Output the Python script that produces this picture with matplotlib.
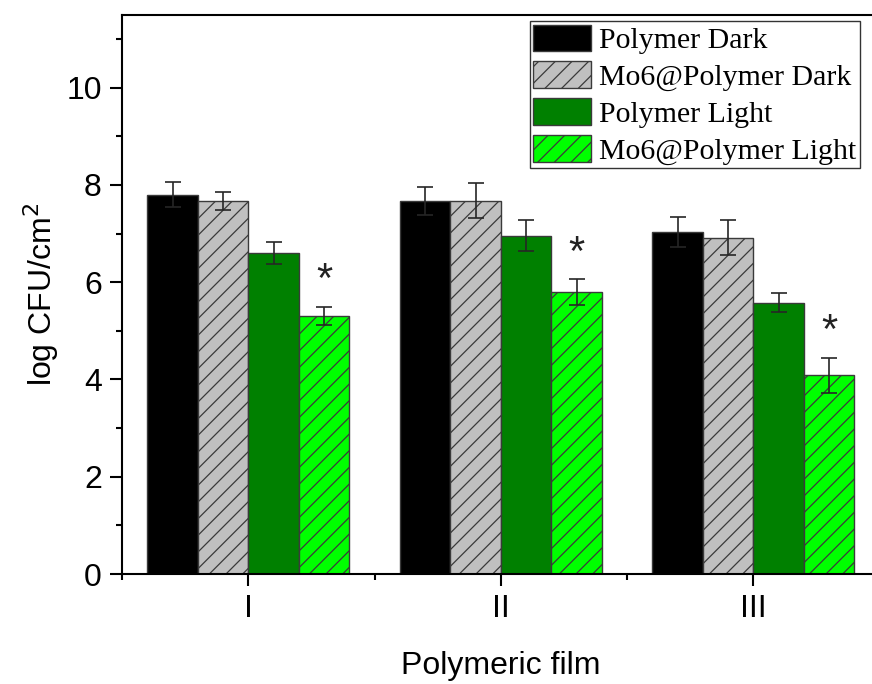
import matplotlib
matplotlib.use("Agg")
import matplotlib.pyplot as plt
import numpy as np
from matplotlib.ticker import MultipleLocator, FixedLocator

films = ["I", "II", "III"]
series = ["Polymer Dark", "Mo6@Polymer Dark", "Polymer Light", "Mo6@Polymer Light"]
polymer_dark = [7.80, 7.67, 7.04]
polymer_dark_err = [0.26, 0.29, 0.31]
mo6_dark = [7.67, 7.67, 6.91]
mo6_dark_err = [0.18, 0.36, 0.36]
polymer_light = [6.60, 6.96, 5.58]
polymer_light_err = [0.23, 0.31, 0.19]
mo6_light = [5.31, 5.80, 4.09]
mo6_light_err = [0.19, 0.26, 0.36]
significant = [True, True, True]

values = [polymer_dark, mo6_dark, polymer_light, mo6_light]
errors = [polymer_dark_err, mo6_dark_err, polymer_light_err, mo6_light_err]
colors = ["#000000", "#C0C0C0", "#008000", "#00FF00"]
hatches = [None, "//", None, "//"]

plt.rcParams["hatch.linewidth"] = 0.9
plt.rcParams["hatch.color"] = "#1a1a1a"

fig = plt.figure(figsize=(8.72, 6.84), dpi=100)
ax = fig.add_axes([122 / 872, 1 - 574 / 684, (879.5 - 122) / 872, (574 - 14.7) / 684])

x = np.arange(1, len(films) + 1)
width = 0.2
offsets = [-0.3, -0.1, 0.1, 0.3]

for vals, errs, col, hat, off, name in zip(values, errors, colors, hatches, offsets, series):
    ax.bar(x + off, vals, width, color=col, edgecolor="#3a3a3a", linewidth=1.0,
           hatch=hat, label=name, zorder=2)
    ax.errorbar(x + off, vals, yerr=errs, fmt="none", ecolor="#262626",
                elinewidth=1.2, capsize=6, capthick=1.2, zorder=3)

# significance marks above the irradiated Mo6@Polymer bars
for xi, v, e, sig in zip(x + offsets[3], mo6_light, mo6_light_err, significant):
    if sig:
        ax.text(xi, v + e + 0.30, "*", ha="center", va="baseline",
                fontsize=30, family="Liberation Sans", color="#222222", zorder=4)

ax.set_xlim(0.5, 3.5)
ax.set_ylim(0, 11.5)
ax.set_xticks(x)
ax.set_xticklabels(films)
ax.xaxis.set_minor_locator(FixedLocator([0.5, 1.5, 2.5, 3.5]))
ax.set_yticks([0, 2, 4, 6, 8, 10])
ax.yaxis.set_minor_locator(MultipleLocator(1))

tick_font = {"family": "Liberation Sans", "size": 23}
for lab in ax.get_xticklabels() + ax.get_yticklabels():
    lab.set_fontfamily("Liberation Sans")
    lab.set_fontsize(23)

ax.tick_params(axis="both", which="major", direction="out", length=8.5, width=1.5, pad=6)
ax.tick_params(axis="both", which="minor", direction="out", length=4.5, width=1.5)
ax.tick_params(top=False, right=False, which="both")
for sp in ax.spines.values():
    sp.set_linewidth(1.5)

ax.set_ylabel("log CFU/cm$^2$", fontdict=tick_font, labelpad=4)
ax.set_xlabel("Polymeric film", fontdict=tick_font, labelpad=19)

leg = ax.legend(loc="upper right", bbox_to_anchor=(860 / 872, 1 - 21 / 684),
                bbox_transform=fig.transFigure, borderaxespad=0,
                prop={"family": "Liberation Serif", "size": 21.5},
                frameon=True, fancybox=False, edgecolor="#000000",
                handlelength=1.94, handleheight=1.0, handletextpad=0.27,
                labelspacing=0.24, borderpad=0.12)
leg.get_frame().set_linewidth(1.0)

fig.savefig("out.png", dpi=100)
